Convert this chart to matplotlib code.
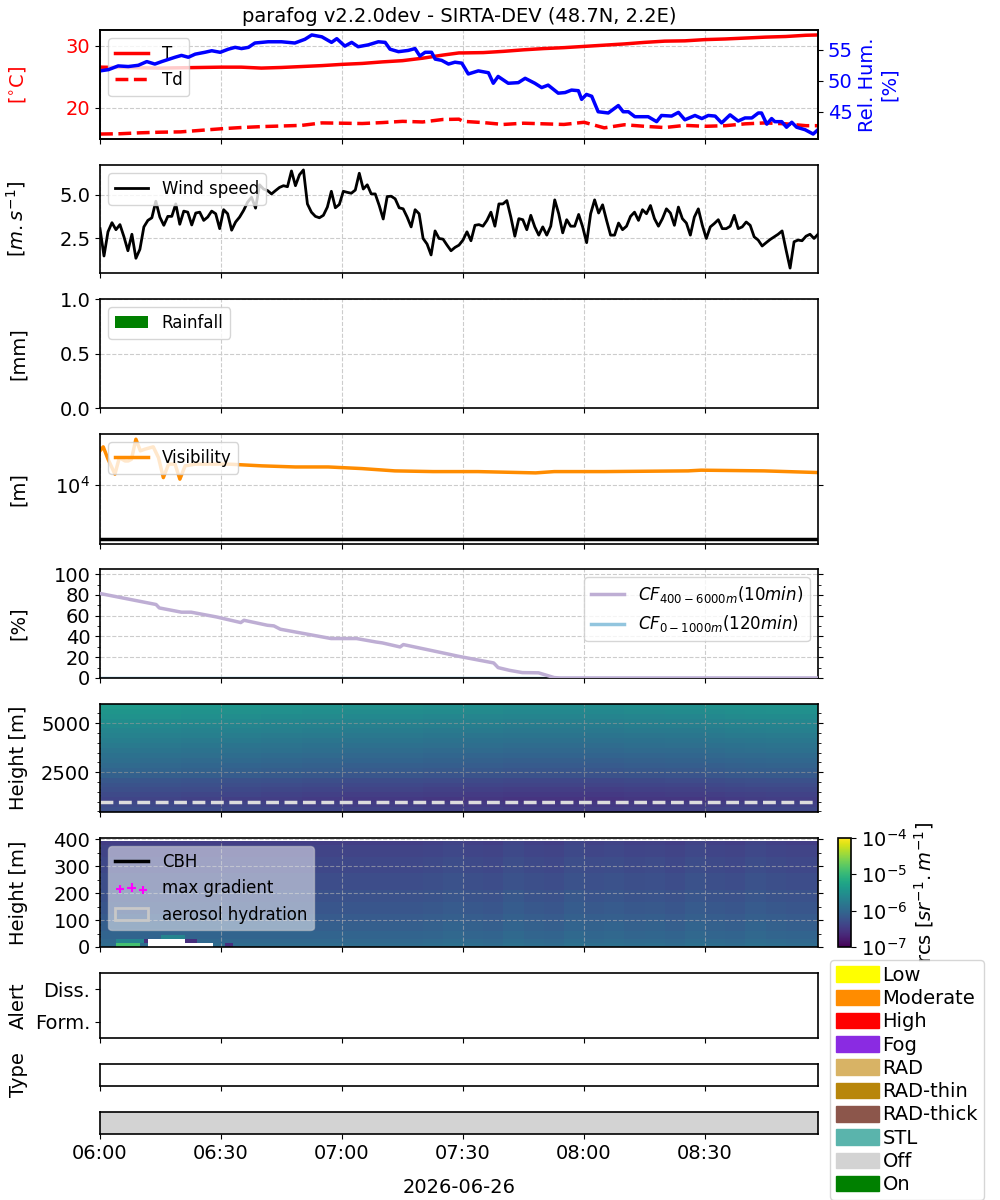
import matplotlib
matplotlib.use('Agg')
import numpy as np
import matplotlib.pyplot as plt
import matplotlib.dates as mdates
import matplotlib.patches as mpatches
import matplotlib.ticker as mticker
from matplotlib.colors import LogNorm
from datetime import datetime

plt.rcParams['font.size'] = 14
plt.rcParams['axes.linewidth'] = 1.2

# --- data (minutes after 06:00) ---
start = datetime(2026, 6, 26, 6, 0)
t_end = 178

temp_min = [0, 5, 10, 15, 20, 25, 30, 35, 40, 45, 50, 55, 60, 65, 70, 75, 80, 85, 89,
            90, 95, 100, 105, 110, 115, 120, 125, 130, 135, 140, 145, 150, 155, 160,
            165, 170, 175, 178]
temp = [26.55, 26.5, 26.45, 26.4, 26.45, 26.5, 26.55, 26.55, 26.4, 26.5, 26.65, 26.8,
        27.0, 27.15, 27.4, 27.6, 28.0, 28.5, 28.85,
        28.85, 28.9, 29.1, 29.35, 29.55, 29.7, 29.9, 30.1, 30.3, 30.55, 30.75, 30.8,
        31.0, 31.1, 31.25, 31.4, 31.5, 31.7, 31.75]
dew = [15.75, 15.8, 15.95, 16.05, 16.1, 16.35, 16.6, 16.8, 16.95, 17.05, 17.15, 17.55,
       17.5, 17.45, 17.6, 17.8, 17.7, 18.1, 18.15,
       17.8, 17.6, 17.3, 17.5, 17.4, 17.3, 17.65, 16.75, 17.25, 17.0, 16.8, 17.15,
       17.0, 17.1, 17.4, 17.55, 17.4, 17.1, 17.1]

rh_min = [0, 2.1, 4.5, 7.0, 9.5, 11.6, 13.6, 15.3, 18.6, 20.2, 21.9, 23.6, 26.0, 27.7,
          29.8, 31.8, 33.5, 35.1, 36.8, 38.4, 41.7, 45.0, 48.3, 50.8, 52.5, 55.0, 57.4,
          58.7, 60.7, 62.4, 64.0, 66.5, 69.0, 70.7, 71.9, 74.0, 76.4, 78.1, 79.3, 80.6,
          82.2, 83.1, 84.7, 86.4, 88.0, 89.7, 91.3, 93.8, 96.3, 97.5, 98.7, 101.2,
          103.7, 105.4, 107.8, 109.5, 111.1, 113.6, 115.3, 116.9, 118.6, 119.4, 120.6,
          121.9, 123.5, 126.0, 128.5, 129.7, 131.0, 132.6, 135.9, 138.0, 139.2, 141.7,
          143.4, 145.0, 147.5, 149.2, 150.8, 152.5, 154.1, 156.2, 158.2, 159.9, 161.6,
          163.2, 164.0, 165.3, 166.5, 167.3, 169.0, 170.2, 171.5, 172.7, 174.8, 176.8,
          178.0]
rh = [51.6, 51.8, 52.4, 52.3, 52.5, 53.1, 52.7, 53.1, 53.8, 54.1, 53.8, 54.3, 54.6,
      54.85, 54.6, 55.1, 55.4, 55.2, 55.4, 56.1, 56.3, 56.3, 56.1, 56.7, 57.4, 57.1,
      56.2, 56.8, 55.6, 56.2, 55.5, 55.8, 56.3, 56.2, 55.1, 54.7, 54.9, 55.2, 54.0,
      54.6, 54.6, 53.5, 53.3, 52.7, 53.0, 52.85, 51.1, 51.6, 51.3, 49.6, 50.7, 49.6,
      49.7, 50.4, 49.6, 48.9, 49.3, 48.0, 48.1, 48.5, 48.4, 47.0, 47.8, 47.5, 45.0,
      44.8, 46.0, 45.0, 45.0, 44.2, 44.2, 43.4, 44.4, 44.3, 44.9, 43.7, 44.4, 43.9,
      44.4, 44.3, 43.2, 44.5, 43.5, 44.0, 44.0, 44.8, 44.8, 43.0, 43.9, 43.4, 43.4,
      42.5, 43.3, 42.5, 42.1, 41.4, 42.1]

wind = [3.06, 1.5, 2.88, 3.4, 3.0, 3.29, 2.6, 1.8, 2.74, 1.37,
        1.88, 3.16, 3.53, 3.68, 4.62, 3.72, 3.25, 3.76, 3.76, 4.47,
        3.31, 4.06, 4.0, 3.27, 3.95, 4.0, 3.53, 3.72, 4.06, 3.91,
        3.06, 4.14, 3.91, 2.97, 3.44, 3.72, 4.1, 4.57, 4.85, 4.23,
        5.56, 5.32, 5.23, 5.04, 5.23, 5.41, 5.51, 5.45, 6.35, 5.51,
        6.13, 6.41, 4.47, 4.0, 3.76, 3.68, 3.82, 4.29, 5.19, 4.25,
        4.44, 5.19, 5.13, 5.08, 5.26, 6.22, 5.32, 5.56, 5.04, 5.04,
        4.38, 3.61, 4.89, 4.91, 4.76, 4.25, 4.19, 3.72, 3.16, 4.14,
        3.91, 2.5, 2.18, 1.56, 2.93, 2.5, 2.46, 2.12, 1.8, 1.99,
        2.12, 2.41, 2.88, 2.37, 3.25, 3.29, 3.2, 3.53, 4.0, 3.2,
        4.47, 4.47, 4.66, 3.72, 2.63, 3.63, 3.57, 3.0, 3.82, 3.16,
        2.69, 3.16, 2.69, 3.2, 4.7, 3.91, 2.82, 3.57, 3.2, 3.2,
        3.87, 3.16, 2.26, 3.91, 4.7, 3.95, 4.42, 3.53, 2.69, 2.69,
        3.38, 3.0, 3.2, 3.76, 4.0, 3.53, 4.14, 3.91, 4.38, 3.63,
        3.2, 3.63, 4.19, 3.95, 3.25, 4.29, 3.63, 3.38, 2.69, 3.72,
        4.19, 3.25, 2.5, 3.16, 3.35, 3.57, 3.06, 3.06, 3.2, 3.82,
        3.06, 3.16, 3.44, 3.25, 2.59, 2.41, 2.07, 2.26, 2.44, 2.59,
        2.74, 2.93, 1.84, 0.81, 2.31, 2.41, 2.37, 2.63, 2.74, 2.5,
        2.74]

rain_min = [0, 10, 20, 30, 40, 50, 60, 70, 80, 90, 100, 110, 120, 130, 140, 150, 160, 170]
rain = [0.0] * 18

vis_min = [0, 0.8, 2, 3.7, 4.8, 6.2, 7.0, 7.8, 8.9, 10, 11.2, 13.2, 14.5, 15.7, 17,
           18.6, 19.8, 21.1, 23.6, 31.9, 40.1, 48.4, 56.6, 64.9, 73.1, 82.6, 93.7,
           108, 112.6, 125, 145.8, 149, 164.6, 178]
vis = [25300, 28200, 20100, 13400, 21000, 19200, 19200, 20100, 34700, 25300, 26500,
       28200, 21000, 12200, 17600, 17600, 11700, 16800, 17600, 17600, 16800, 16300,
       16300, 15600, 14650, 14370, 14370, 13870, 14370, 14370, 14650, 14930, 14650,
       14000]
vis_threshold = 2300

cf_min = [0, 13.9, 14.7, 20.2, 22.6, 28.9, 34.9, 35.7, 41.5, 43.1, 44.7, 57.3, 63.6,
          68.4, 70, 74.4, 75.2, 85.8, 88.9, 97.6, 98.7, 101.5, 104.7, 108.7, 112.6,
          114.2, 178]
cf_high = [81.4, 70.8, 67.5, 63.4, 63.4, 58.8, 53.4, 55.6, 50.8, 50.2, 47.0, 38.0,
           38.0, 34.7, 33.8, 29.9, 32.2, 23.5, 20.9, 14.5, 10.0, 7.4, 5.2, 5.0, 0.4,
           0.0, 0.0]
cf_low_min = [0, 30, 60, 90, 120, 150, 178]
cf_low = [0, 0, 0, 0, 0, 0, 0]

# lidar, log10 of range corrected signal
full_profile = [-6.4, -6.45, -6.5, -6.45, -6.4, -6.35, -6.3, -6.2, -6.15, -6.1, -6.05,
                -6.0, -5.95, -5.9, -5.85, -5.8, -5.75, -5.7, -5.65, -5.6, -5.55, -5.5]
full_anom = [0.12, 0.12, 0.1, 0.1, 0.08, 0.08, 0.06, 0.06, 0.04, 0.04,
             0.02, 0.02, 0.0, 0.0, 0.0, 0.0, -0.02, -0.02, -0.03, -0.03,
             -0.05, -0.05, -0.05, -0.05, -0.05, -0.05, -0.03, -0.03, -0.02, -0.02,
             0.0, 0.02, 0.03, 0.04, 0.04, 0.04]
low_profile = [-5.95, -6.0, -6.05, -6.05, -6.1, -6.1, -6.15, -6.15, -6.2, -6.2, -6.2,
               -6.25, -6.25, -6.25, -6.3, -6.3, -6.3, -6.3, -6.35, -6.35, -6.35, -6.35,
               -6.4, -6.4, -6.4, -6.45]
low_anom = [0, 0, 0, 0, 0, 0, 0, 0, 0, 0,
            0, 0, 0, 0, 0, 0, 0.02, 0.05, 0.02, 0.0,
            0.06, 0.02, 0.0, 0.06, 0.03, 0.05, 0.02, 0.03, 0.0, 0.05,
            0.02, 0.0, 0.05, 0.02, 0.0, 0.0]
# (t start, t end, h bottom, h top, log10 rcs) ; nan = no signal
low_cells = [(4, 10, 0, 15, -4.9), (4, 11, 15, 30, -5.65), (11, 12, 15, 30, -6.6),
             (12, 21, 0, 30, np.nan), (21, 28, 0, 15, np.nan), (15, 21, 30, 46, -5.65),
             (21, 24, 15, 30, -6.6), (31, 33, 0, 15, -6.6)]

status_min = [0]
status_len = [178]
status = ['Off']

legend_colors = {'Low': '#ffff00', 'Moderate': '#ff8c00', 'High': '#ff0000',
                 'Fog': '#8a2be2', 'RAD': '#d8b365', 'RAD-thin': '#b8860b',
                 'RAD-thick': '#8c564b', 'STL': '#5ab4ac', 'Off': '#d3d3d3',
                 'On': '#008000'}

t0 = mdates.date2num(start)


def tx(m):
    return t0 + np.asarray(m, dtype=float) / 1440.0


fig = plt.figure(figsize=(10, 12), dpi=100)


def box(top, bottom):
    return [0.1, 1 - bottom / 1200, 0.718, (bottom - top) / 1200]


ax_t = fig.add_axes(box(30, 139))
ax_w = fig.add_axes(box(165, 273))
ax_r = fig.add_axes(box(299, 408))
ax_v = fig.add_axes(box(434, 544))
ax_c = fig.add_axes(box(569, 678))
ax_l1 = fig.add_axes(box(704, 812))
ax_l2 = fig.add_axes(box(838, 947))
ax_a = fig.add_axes(box(973, 1038))
ax_ty = fig.add_axes(box(1064, 1086))
ax_s = fig.add_axes(box(1112, 1134))
axes = [ax_t, ax_w, ax_r, ax_v, ax_c, ax_l1, ax_l2, ax_a, ax_ty, ax_s]

grid_kw = dict(ls='--', color='0.8', lw=0.8)

# temperature / humidity
ax_t.plot(tx(temp_min), temp, color='red', lw=2.5, label='T')
ax_t.plot(tx(temp_min), dew, color='red', lw=2.5, ls='--', label='Td')
ax_t.set_ylabel('[$^{\\circ}$C]', color='red')
ax_t.tick_params(axis='y', labelcolor='red')
ax_t.legend(loc='upper left', fontsize=12)
ax_t.grid(True, **grid_kw)
ax_t.set_title('parafog v2.2.0dev - SIRTA-DEV (48.7N, 2.2E)', fontsize=14)
ax_h = ax_t.twinx()
ax_h.plot(tx(rh_min), rh, color='blue', lw=2.5)
ax_h.set_ylabel('Rel. Hum.\n[%]', color='blue')
ax_h.tick_params(axis='y', labelcolor='blue')
ax_h.set_yticks([45, 50, 55])

# wind
ax_w.plot(tx(np.linspace(0, t_end, len(wind))), wind, color='black', lw=2, label='Wind speed')
ax_w.set_ylabel('[$m.s^{-1}$]')
ax_w.set_yticks([2.5, 5.0])
ax_w.legend(loc='upper left', fontsize=12)
ax_w.grid(True, **grid_kw)

# rain
ax_r.bar(tx(rain_min), rain, width=10 / 1440, align='edge', color='green', label='Rainfall')
ax_r.set_ylim(0, 1)
ax_r.set_yticks([0.0, 0.5, 1.0])
ax_r.set_ylabel('[mm]')
ax_r.legend(loc='upper left', fontsize=12)
ax_r.grid(True, **grid_kw)

# visibility
ax_v.plot(tx(vis_min), vis, color='#ff8c00', lw=2.5, label='Visibility')
ax_v.axhline(vis_threshold, color='black', lw=2.5)
ax_v.set_yscale('log')
ax_v.set_ylim(2000, 40000)
ax_v.yaxis.set_minor_locator(mticker.NullLocator())
ax_v.yaxis.set_minor_formatter(mticker.NullFormatter())
ax_v.yaxis.set_ticks_position('both')
ax_v.set_ylabel('[m]')
ax_v.legend(loc='upper left', fontsize=12)
ax_v.grid(True, **grid_kw)

# cloud fraction
ax_c.plot(tx(cf_low_min), cf_low, color='#92c5de', lw=2.5,
          label='$CF_{0-1000m} (120min)$', zorder=2)
ax_c.plot(tx(cf_min), cf_high, color='#beaed4', lw=2.5,
          label='$CF_{400-6000m} (10min)$', zorder=3)
h, lab = ax_c.get_legend_handles_labels()
ax_c.legend(h[::-1], lab[::-1], loc='upper right', fontsize=12)
ax_c.set_ylim(0, 105)
ax_c.set_yticks([0, 20, 40, 60, 80, 100])
ax_c.yaxis.set_minor_locator(mticker.MultipleLocator(10))
ax_c.yaxis.set_ticks_position('both')
ax_c.set_ylabel('[%]')
ax_c.grid(True, **grid_kw)

norm = LogNorm(1e-7, 1e-4)

# lidar, full range
full_t = np.append(np.arange(0, t_end, 5), t_end)
full_h = np.linspace(470, 5990, len(full_profile) + 1)
full_grid = np.array(full_profile)[:, None] + np.array(full_anom)[None, :]
ax_l1.pcolormesh(tx(full_t), full_h, 10 ** full_grid, norm=norm, cmap='viridis')
ax_l1.axhline(1000, color='#dcdcdc', ls='--', lw=2.5)
ax_l1.set_ylim(470, 5985)
ax_l1.set_yticks([2500, 5000])
ax_l1.yaxis.set_minor_locator(mticker.MultipleLocator(500))
ax_l1.yaxis.set_ticks_position('both')
ax_l1.set_ylabel('Height [m]')
ax_l1.grid(True, ls='--', color='0.6', lw=0.8, alpha=0.6)

# lidar, lowest levels
low_t = np.arange(0, t_end + 1)
low_h = np.linspace(0, 395, len(low_profile) + 1)
low_grid = np.array(low_profile)[:, None] + np.repeat(low_anom, 5)[None, :t_end]
tc = (low_t[:-1] + low_t[1:]) / 2
hc = (low_h[:-1] + low_h[1:]) / 2
for a, b, c, d, v in low_cells:
    rows = (hc >= c) & (hc < d)
    cols = (tc >= a) & (tc < b)
    low_grid[np.ix_(rows, cols)] = v
mesh = ax_l2.pcolormesh(tx(low_t), low_h, 10 ** low_grid, norm=norm, cmap='viridis')
ax_l2.plot([], [], color='black', lw=2.5, label='CBH')
ax_l2.scatter([], [], marker='+', color='magenta', label='max gradient')
hyd = mpatches.Patch(facecolor='none', edgecolor='#c8c8c8', lw=2, label='aerosol hydration')
h, lab = ax_l2.get_legend_handles_labels()
ax_l2.legend(h + [hyd], lab + ['aerosol hydration'], loc='upper left', fontsize=12,
             framealpha=0.5, scatterpoints=3)
ax_l2.set_ylim(0, 405)
ax_l2.set_yticks([0, 100, 200, 300, 400])
ax_l2.yaxis.set_minor_locator(mticker.MultipleLocator(50))
ax_l2.yaxis.set_ticks_position('both')
ax_l2.set_ylabel('Height [m]')
ax_l2.grid(True, ls='--', color='0.7', lw=0.8, alpha=0.6)

cax = fig.add_axes([0.838, 1 - 947 / 1200, 0.013, 109 / 1200])
cb = fig.colorbar(mesh, cax=cax)
cb.set_ticks([1e-7, 1e-6, 1e-5, 1e-4])
cb.ax.minorticks_off()
cb.set_label('rcs [$sr^{-1}.m^{-1}$]')

# alert / type / status
ax_a.set_ylim(-0.5, 1.5)
ax_a.set_yticks([0, 1])
ax_a.set_yticklabels(['Form.', 'Diss.'])
ax_a.set_ylabel('Alert')

ax_ty.set_yticks([])
ax_ty.set_ylabel('Type')

ax_s.broken_barh(list(zip(tx(status_min), np.array(status_len) / 1440.0)), (0, 1),
                 facecolors=[legend_colors[s] for s in status])
ax_s.set_ylim(0, 1)
ax_s.set_yticks([])

for ax in axes:
    ax.set_xlim(tx(0), tx(t_end))
    ax.xaxis.set_major_locator(mdates.MinuteLocator(byminute=[0, 30]))
    ax.xaxis.set_major_formatter(mdates.DateFormatter('%H:%M'))
    if ax is not ax_s:
        ax.tick_params(axis='x', labelbottom=False)
    ax.yaxis.set_label_coords(-0.1, 0.5)
ax_s.set_xlabel(start.strftime('%Y-%m-%d'), labelpad=11)

handles = [mpatches.Patch(color=c, label=k) for k, c in legend_colors.items()]
fig.legend(handles=handles, loc='upper left', bbox_to_anchor=(0.83, 0.2), fontsize=14,
           labelspacing=0.22, handletextpad=0.2, handlelength=2.2, handleheight=0.85,
           borderaxespad=0, borderpad=0.3)

fig.savefig('out.png', dpi=100)
